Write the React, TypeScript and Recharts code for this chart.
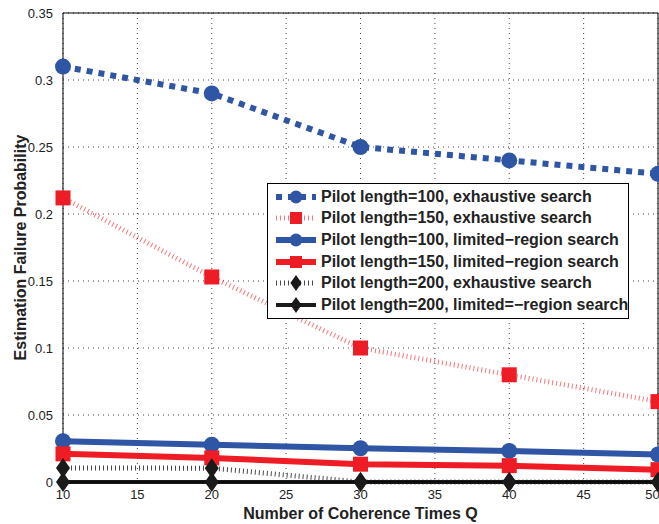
import React from "react";
import { LineChart, Line, XAxis, YAxis, CartesianGrid, Legend, ReferenceLine } from "recharts";

const coherenceTimes = [10, 20, 30, 40, 50];
const exhaustive100 = [0.31, 0.29, 0.25, 0.24, 0.23];
const exhaustive150 = [0.212, 0.153, 0.1, 0.08, 0.06];
const limited100 = [0.0305, 0.0278, 0.0252, 0.0232, 0.0205];
const limited150 = [0.021, 0.018, 0.0133, 0.0122, 0.0092];
const exhaustive200 = [0.0105, 0.0103, 0, 0, 0];
const limited200 = [0, 0, 0, 0, 0];
const xTicks = [10, 15, 20, 25, 30, 35, 40, 45, 50];
const yTicks = [0, 0.05, 0.1, 0.15, 0.2, 0.25, 0.3, 0.35];

const BLUE = "#2F55A5";
const RED = "#EE1D25";
const BLACK = "#1A1A1A";
const FONT = "'Liberation Sans', Arial, Helvetica, sans-serif";

const data = coherenceTimes.map((q, i) => ({
  q,
  e100: exhaustive100[i],
  e150: exhaustive150[i],
  l100: limited100[i],
  l150: limited150[i],
  e200: exhaustive200[i],
  l200: limited200[i],
}));

type Marker = "circle" | "square" | "diamond";

const series: Array<{
  key: string;
  name: string;
  color: string;
  width: number;
  dash?: string;
  opacity?: number;
  marker: Marker;
}> = [
  { key: "e100", name: "Pilot length=100, exhaustive search", color: BLUE, width: 6, dash: "6 6", marker: "circle" },
  { key: "e150", name: "Pilot length=150, exhaustive search", color: RED, width: 5, dash: "1 3", opacity: 0.6, marker: "square" },
  { key: "l100", name: "Pilot length=100, limited\u2212region search", color: BLUE, width: 6, marker: "circle" },
  { key: "l150", name: "Pilot length=150, limited\u2212region search", color: RED, width: 6, marker: "square" },
  { key: "e200", name: "Pilot length=200, exhaustive search", color: BLACK, width: 5, dash: "1 3", opacity: 0.8, marker: "diamond" },
  { key: "l200", name: "Pilot length=200, limited=\u2212region search", color: BLACK, width: 4, marker: "diamond" },
];

function drawMarker(marker: Marker, cx: number, cy: number, color: string, size = 1, key?: React.Key) {
  if (marker === "circle") return <circle key={key} cx={cx} cy={cy} r={8 * size} fill={color} />;
  if (marker === "square") {
    const h = 7.5 * size;
    return <rect key={key} x={cx - h} y={cy - h} width={2 * h} height={2 * h} fill={color} />;
  }
  const w = 7 * size;
  const v = 10 * size;
  return <polygon key={key} points={`${cx},${cy - v} ${cx + w},${cy} ${cx},${cy + v} ${cx - w},${cy}`} fill={color} />;
}

function LegendBox() {
  return (
    <div
      style={{
        border: "1px solid #000",
        background: "#fff",
        padding: "2px 4px 2px 7px",
        fontFamily: FONT,
        fontWeight: "bold",
        fontSize: 16,
        color: "#222",
        width: 349,
      }}
    >
      {series.map((s) => (
        <div key={s.key} style={{ display: "flex", alignItems: "center", height: 21.6 }}>
          <svg width={42} height={20} style={{ marginRight: 4, flex: "none" }}>
            <line
              x1={1}
              x2={41}
              y1={10}
              y2={10}
              stroke={s.color}
              strokeWidth={s.width}
              strokeDasharray={s.dash}
              strokeOpacity={s.opacity ?? 1}
            />
            {drawMarker(s.marker, 21, 10, s.color, 0.8)}
          </svg>
          <span style={{ whiteSpace: "nowrap" }}>{s.name}</span>
        </div>
      ))}
    </div>
  );
}

export default function App() {
  return (
    <div style={{ position: "absolute", left: 0, top: 0, width: 659, height: 524, background: "#fff" }}>
      <LineChart width={659} height={524} data={data} margin={{ top: 13, right: 1, left: 0, bottom: 0 }}>
        <CartesianGrid stroke="#444" strokeDasharray="1 4" strokeWidth={1} />
        <XAxis
          dataKey="q"
          type="number"
          domain={[10, 50]}
          ticks={xTicks}
          height={42}
          stroke="#000"
          tickLine={false}
          tick={{ fill: "#222", fontSize: 13, fontFamily: FONT }}
          tickMargin={2}
          label={{
            value: "Number of Coherence Times Q",
            position: "insideBottom",
            offset: 5,
            style: { fontFamily: FONT, fontWeight: "bold", fontSize: 16, fill: "#222" },
          }}
        />
        <YAxis
          type="number"
          domain={[0, 0.35]}
          ticks={yTicks}
          width={63}
          stroke="#000"
          tickLine={false}
          tick={{ fill: "#222", fontSize: 13, fontFamily: FONT }}
          tickMargin={4}
          label={{
            value: "Estimation Failure Probability",
            angle: -90,
            position: "insideLeft",
            offset: 20,
            style: { textAnchor: "middle", fontFamily: FONT, fontWeight: "bold", fontSize: 16, fill: "#222" },
          }}
        />
        <ReferenceLine y={0.35} stroke="#000" strokeWidth={1} />
        <ReferenceLine x={50} stroke="#000" strokeWidth={1} />
        <Legend
          layout="vertical"
          align="center"
          verticalAlign="middle"
          content={() => <LegendBox />}
          wrapperStyle={{ position: "absolute", left: 267, top: 183, width: "auto", height: "auto" }}
        />
        {series.map((s) => (
          <Line
            key={s.key}
            dataKey={s.key}
            name={s.name}
            type="linear"
            stroke={s.color}
            strokeWidth={s.width}
            strokeDasharray={s.dash}
            strokeOpacity={s.opacity ?? 1}
            isAnimationActive={false}
            dot={(p: any) => drawMarker(s.marker, p.cx, p.cy, s.color, 1, `${s.key}-${p.index}`)}
            activeDot={false}
          />
        ))}
      </LineChart>
    </div>
  );
}
